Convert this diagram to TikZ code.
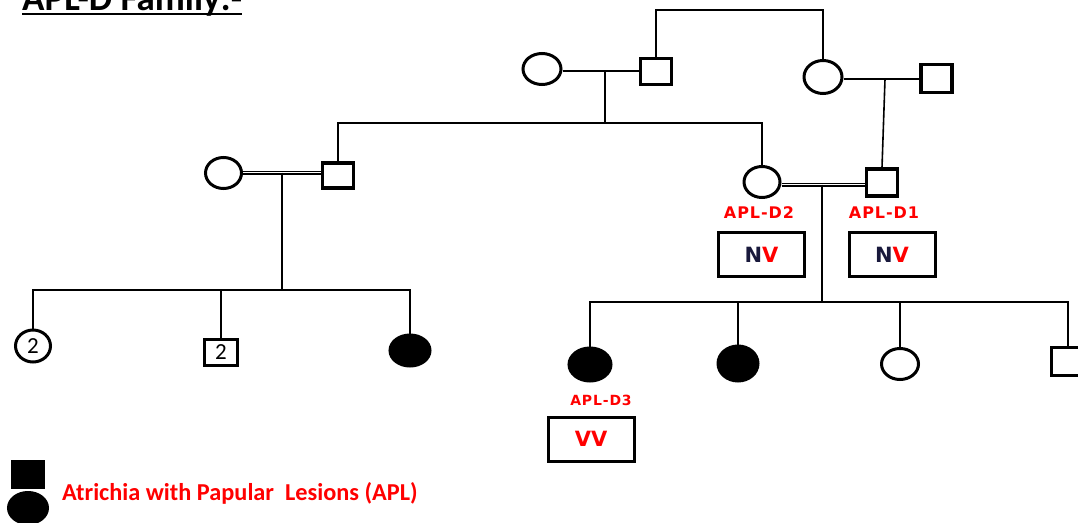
\documentclass[tikz,border=0pt]{standalone}
\usepackage{fontspec}
\setmainfont{Carlito}
\newfontfamily\vfont{DejaVu Sans}
\newfontfamily\lblfont{DejaVu Sans}[LetterSpace=6]
\usetikzlibrary{shapes.geometric,backgrounds}
\definecolor{aplred}{RGB}{255,0,0}
\definecolor{navyN}{RGB}{25,25,60}
\begin{document}
\begin{tikzpicture}[x=1pt,y=-1pt,
  ln/.style={line width=1.6pt},
  dbl/.style={line width=1.2pt,double,double distance=1.6pt},
  fem/.style args={#1/#2}{ellipse,draw,line width=3pt,inner sep=0pt,minimum width=#1pt,minimum height=#2pt,font=\fontsize{23}{23}\selectfont},
  male/.style args={#1/#2}{rectangle,draw,line width=3.2pt,inner sep=0pt,minimum width=#1pt,minimum height=#2pt,font=\fontsize{23}{23}\selectfont},
  aff/.style={fill=black},
  lbl/.style={anchor=base,inner sep=0pt,text=aplred,font=\lblfont\bfseries\fontsize{16}{16}\selectfont},
  gbox/.style={draw,line width=3pt,minimum width=86pt,minimum height=44pt,inner sep=0pt,text=aplred,font=\vfont\bfseries\fontsize{21}{21}\selectfont}]
\useasboundingbox (0,0) rectangle (1078,522);
\clip (0,0) rectangle (1078,522);

% title
\node[anchor=base west,inner sep=0pt,font=\bfseries\fontsize{37}{37}\selectfont] (title) at (22,10) {APL-D Family:-};
\draw[line width=2.5pt] ([yshift=-4pt]title.base west) -- ([yshift=-4pt]title.base east);

% generation I
\node[fem=38/31] (I1) at (542,69) {};
\node[male=31/26] (I2) at (656,71.5) {};
\node[fem=38/33] (I3) at (823,77) {};
\node[male=31/28] (I4) at (936.5,78.5) {};

% generation II
\node[fem=36/31] (II1) at (223.5,173) {};
\node[male=31/25] (II2) at (338,175.5) {};
\node[fem=36/31] (II3) at (762,182) {};
\node[male=31/27] (II4) at (882,182.5) {};

% generation III (left)
\node[fem=35/32] (III1) at (33,346) {2};
\node[male=33/26] (III2) at (221,352.5) {2};
\node[fem=40/31,aff] (III3) at (410,350.5) {};

% generation III (right)
\node[fem=42/33,aff] (IV1) at (590,364.5) {};
\node[fem=40/35,aff] (IV2) at (738,363.5) {};
\node[fem=37/31] (IV3) at (900,364) {};
\node[male=33/28] (IV4) at (1068,361.5) {};

% labels and genotype boxes
\node[lbl] (d2) at (759,218) {APL-D2};
\node[lbl] (d1) at (884,218) {APL-D1};
\node[lbl,font=\lblfont\bfseries\fontsize{14}{14}\selectfont] (d3) at (601,405) {APL-D3};
\node[gbox] (b2) at (761.5,254.5) {\textcolor{navyN}{N}V};
\node[gbox] (b1) at (892,254.5) {\textcolor{navyN}{N}V};
\node[gbox] (b3) at (591,439) {VV};

% legend
\node[male=31/26,aff] (LS) at (28,474.5) {};
\node[fem=39/31,aff] (LC) at (28,508) {};
\node[anchor=base west,inner sep=0pt,text=aplred,font=\bfseries\fontsize{24.3}{24.3}\selectfont] (LT) at (62,500) {Atrichia with Papular\ \ Lesions (APL)};

% connectors
\coordinate (top) at (740,10);
\coordinate (m1) at (605,71);
\coordinate (s1) at (605,123);
\coordinate (m2) at (885,79);
\coordinate (m3) at (282,172.5);
\coordinate (s2) at (282,290);
\coordinate (m4) at (822,184.5);
\coordinate (s3) at (822,302);
\begin{scope}[on background layer]
\draw[ln] (I2.north) |- (top) -| (I3.north);
\draw[ln] (I1.east |- m1) -- (I2.west |- m1);
\draw[ln] (m1) -- (s1);
\draw[ln] (II2.north) |- (s1) -| (II3.north);
\draw[ln] (I3.east |- m2) -- (I4.west |- m2);
\draw[ln] (m2) -- (II4.north);
\draw[dbl] (II1.east |- m3) -- (II2.west |- m3);
\draw[ln] (m3) -- (s2);
\draw[ln] (III1.north) |- (s2) -| (III3.north);
\draw[ln] (III2.north |- s2) -- (III2.north);
\draw[dbl] (II3.east |- m4) -- (II4.west |- m4);
\draw[ln] (m4) -- (s3);
\draw[ln] (IV1.north) |- (s3) -| (IV4.north);
\draw[ln] (IV2.north |- s3) -- (IV2.north);
\draw[ln] (IV3.north |- s3) -- (IV3.north);
\end{scope}
\end{tikzpicture}
\end{document}
